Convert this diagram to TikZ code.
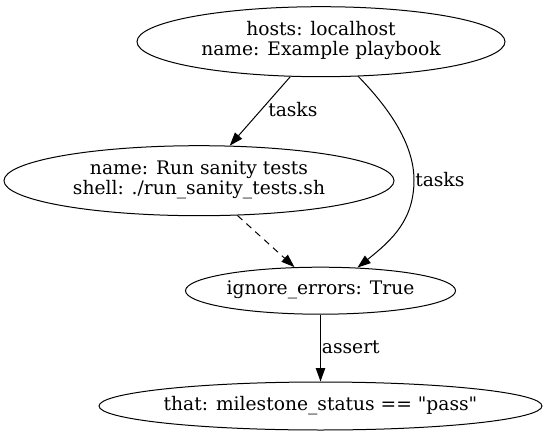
\documentclass[tikz,border=0pt]{standalone}
\usepackage{fontspec}
\setmainfont{DejaVu Serif}
\newfontfamily\gvfont{DejaVu Serif}
\usetikzlibrary{shapes.geometric,arrows.meta}
\newcommand\gvlbl[1]{\makebox[0pt]{\begin{tabular}{@{}c@{}}#1\end{tabular}}}
\begin{document}
\begin{tikzpicture}[x=0.75pt,y=-0.75pt,
  gvnode/.style={draw, ellipse, inner sep=0pt, line width=0.75pt, font=\gvfont\fontsize{14}{15}\selectfont},
  edge/.style={draw, line width=0.75pt, -{Triangle[length=10pt,width=7pt]}},
  elabel/.style={anchor=west, inner sep=0pt, font=\gvfont\fontsize{14}{15}\selectfont}]
\useasboundingbox[fill=white] (0,0) rectangle (546,435);
\node[gvnode, minimum width=276pt, minimum height=52.5pt] (top) at (321,41.7) {\gvlbl{hosts: localhost\\name: Example playbook}};
\node[gvnode, minimum width=292.5pt, minimum height=52.5pt] (mid) at (199,180.7) {\gvlbl{name: Run sanity tests\\shell: ./run\_sanity\_tests.sh}};
\node[gvnode, minimum width=202.5pt, minimum height=35.25pt] (ign) at (320.5,290.7) {\gvlbl{ignore\_errors: True}};
\node[gvnode, minimum width=332.25pt, minimum height=36pt] (bot) at (320.5,406) {\gvlbl{that: milestone\_status == "pass"}};
\draw[edge] (top) -- (mid);
\draw[edge] (top.-43) .. controls (386,105) and (414,142) .. (414,180) .. controls (414,220) and (392,240) .. (ign.32);
\draw[edge, dash pattern=on 5pt off 4pt] (mid) -- (ign);
\draw[edge] (ign) -- (bot);
\node[elabel] (l1) at (268,110) {tasks};
\node[elabel] (l2) at (415,180) {tasks};
\node[elabel] (l3) at (321.7,347) {assert};
\end{tikzpicture}
\end{document}
